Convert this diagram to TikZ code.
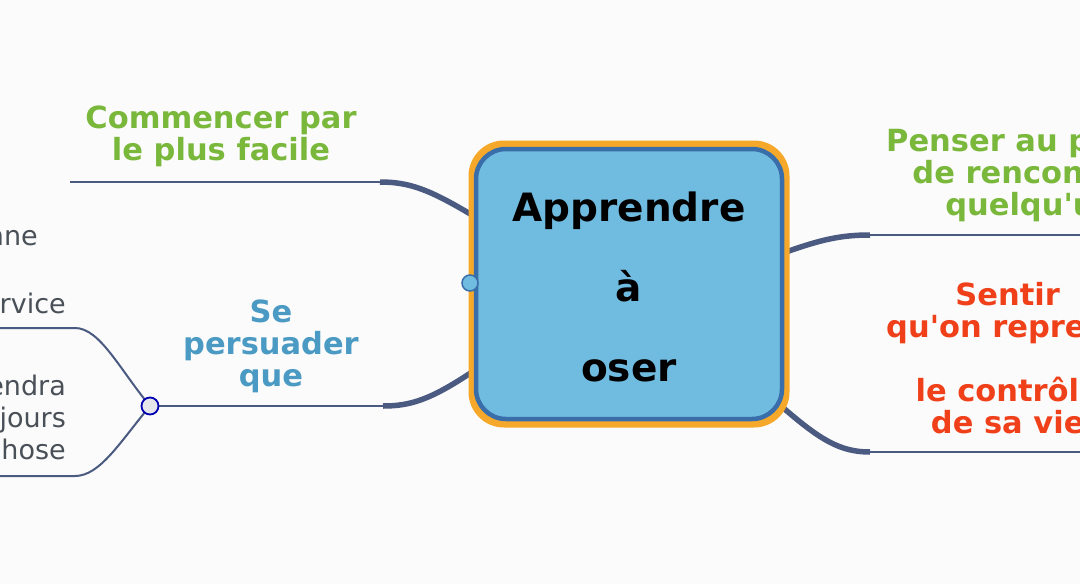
\documentclass[tikz,border=0pt]{standalone}
\usepackage{fontspec}
\setmainfont{DejaVu Sans}[Ligatures=TeXOff]
\newcommand{\ap}{'}
\begin{document}
\begin{tikzpicture}[x=1pt,y=-1pt,
 br/.style={draw=lnc,line width=2pt},
 thick br/.style={draw=lnc,line width=5.5pt},
 lbl/.style={font=\bfseries\fontsize{30.5}{32}\selectfont,align=center,inner sep=0},
 sub/.style={font=\fontsize{27}{32}\selectfont,text=subc,anchor=east,inner sep=0}]
\definecolor{lnc}{HTML}{4A5A80}
\definecolor{grn}{HTML}{7AB83C}
\definecolor{red}{HTML}{F0401A}
\definecolor{blu}{HTML}{4A9AC4}
\definecolor{subc}{HTML}{4A5058}
\definecolor{orn}{HTML}{F5A82A}
\definecolor{bfill}{HTML}{70BBE0}
\definecolor{bdr}{HTML}{3A6EAA}
\fill[white!97!gray] (0,0) rectangle (1080,584);
\useasboundingbox (0,0) rectangle (1080,584);
\clip (0,0) rectangle (1080,584);
\coordinate (c1) at (380,182); \coordinate (c1e) at (70,182);
\coordinate (c2) at (383,406); \coordinate (hub) at (150,406);
\coordinate (r1) at (870,235); \coordinate (r1e) at (1080,235);
\coordinate (r2) at (870,452); \coordinate (r2e) at (1080,452);
\coordinate (s1) at (75,328); \coordinate (s1e) at (0,328);
\coordinate (s2) at (75,476); \coordinate (s2e) at (0,476);
\draw[thick br] (472,215) .. controls (430,190) and (410,182) .. (c1);
\draw[br] (c1) -- (c1e);
\draw[thick br] (472,372) .. controls (430,400) and (410,406) .. (c2);
\draw[br] (c2) -- (hub);
\draw[thick br] (786,252) .. controls (820,240) and (840,235) .. (r1);
\draw[br] (r1) -- (r1e);
\draw[thick br] (780,405) .. controls (820,440) and (840,452) .. (r2);
\draw[br] (r2) -- (r2e);
\draw[br] (hub) .. controls (120,370) and (100,328) .. (s1) -- (s1e);
\draw[br] (hub) .. controls (120,442) and (100,476) .. (s2) -- (s2e);
\node[circle,draw=blue!70!black,fill=lnc!15,line width=1.8pt,minimum size=17pt,inner sep=0] (hubc) at (hub) {};
\node[draw=orn,line width=3pt,rounded corners=34pt,minimum width=318pt,minimum height=284pt,fill=orn] (outer) at (629,284) {};
\node[draw=bdr,line width=4.5pt,rounded corners=30pt,minimum width=306pt,minimum height=270pt,fill=bfill] (box) at (629,284) {};
\node[align=center,font=\bfseries\fontsize{39}{80}\selectfont] (title) at (629,287) {Apprendre\\à\\oser};
\node[circle,draw=bdr,fill=bfill,line width=1.5pt,minimum size=16pt,inner sep=0] (dot) at (470,283) {};
\node[lbl,text=grn] (t1) at (221,136) {Commencer par\\le plus facile};
\node[lbl,text=blu] (t2) at (271,346) {Se\\persuader\\que};
\node[lbl,text=grn,anchor=north west] (t3) at (886,128) {Penser au plaisir\\de rencontrer\\quelqu\ap un};
\node[lbl,text=red,anchor=north west] (t4) at (886,282) {Sentir\\qu\ap on reprend\\\\le contrôle\\de sa vie};
\node[sub] (a) at (38,241) {personne};
\node[sub] (b) at (66,303) {rendre service};
\node[sub,align=right] (c) at (66,420) {on apprendra\\toujours\\quelque chose};
\end{tikzpicture}
\end{document}
